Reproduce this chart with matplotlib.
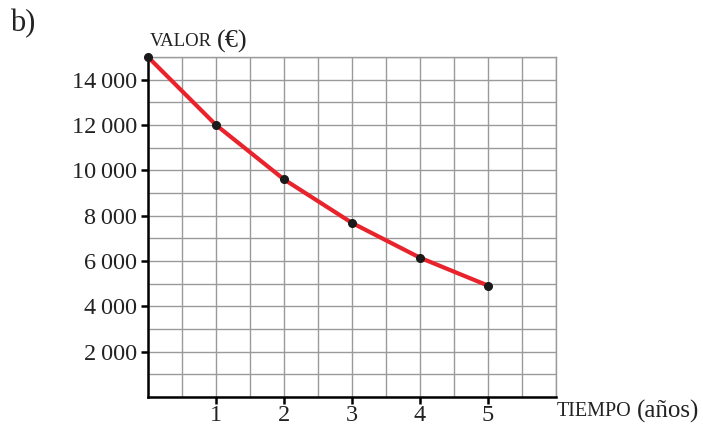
import matplotlib
matplotlib.use("Agg")
import matplotlib.pyplot as plt
from matplotlib.ticker import MultipleLocator

# Value of the item over time (years vs euros)
years = [0, 1, 2, 3, 4, 5]
values = [15000, 12000, 9600, 7680, 6144, 4915]
x_ticks = [1, 2, 3, 4, 5]
y_ticks = [2000, 4000, 6000, 8000, 10000, 12000, 14000]
y_tick_labels = ["2\u2009000", "4\u2009000", "6\u2009000", "8\u2009000",
                 "10\u2009000", "12\u2009000", "14\u2009000"]

plt.rcParams['font.family'] = ['Liberation Serif', 'DejaVu Serif']

W, H = 703, 430
fig = plt.figure(figsize=(W / 100, H / 100), dpi=100)
left, right, top, bottom = 148, 556, 57, 397
ax = fig.add_axes([left / W, 1 - bottom / H, (right - left) / W, (bottom - top) / H])

ax.set_xlim(0, 6)
ax.set_ylim(0, 15000)

# fine grid
ax.xaxis.set_minor_locator(MultipleLocator(0.5))
ax.yaxis.set_minor_locator(MultipleLocator(1000))
ax.grid(which='both', color='#9a9a9a', linewidth=1.0)
ax.set_axisbelow(True)

ax.set_xticks(x_ticks)
ax.set_xticklabels([str(t) for t in x_ticks])
ax.set_yticks(y_ticks)
ax.set_yticklabels(y_tick_labels)
ax.tick_params(which='minor', length=0)
ax.tick_params(axis='both', which='major', direction='out', length=5, width=1.8,
               color='black', labelsize=17.5, labelcolor='#222222')
ax.tick_params(axis='x', pad=1)
ax.tick_params(axis='y', pad=3)

for s in ['top', 'right']:
    ax.spines[s].set_color('#9a9a9a')
    ax.spines[s].set_linewidth(1.0)
for s in ['left', 'bottom']:
    ax.spines[s].set_color('black')
    ax.spines[s].set_linewidth(1.8)

ax.plot(years, values, color='#e8232b', linewidth=3, solid_capstyle='round',
        zorder=3, clip_on=False)
ax.plot(years, values, 'o', color='#1a1a1a', markersize=5.5, zorder=4, clip_on=False)

fig.text(10 / W, 1 - 24 / H, "b)", fontsize=22, va='center', ha='left', color='#222222')
fig.text(150 / W, 1 - 42 / H, "VALOR", fontsize=13.5, va='center', ha='left', color='#222222')
fig.text(217 / W, 1 - 41 / H, "(€)", fontsize=19, va='center', ha='left', color='#222222')
fig.text(557 / W, 1 - 412 / H, "TIEMPO", fontsize=14.5, va='center', ha='left', color='#222222')
fig.text(637 / W, 1 - 411 / H, "(años)", fontsize=18, va='center', ha='left', color='#222222')

fig.savefig("out.png", dpi=100)
